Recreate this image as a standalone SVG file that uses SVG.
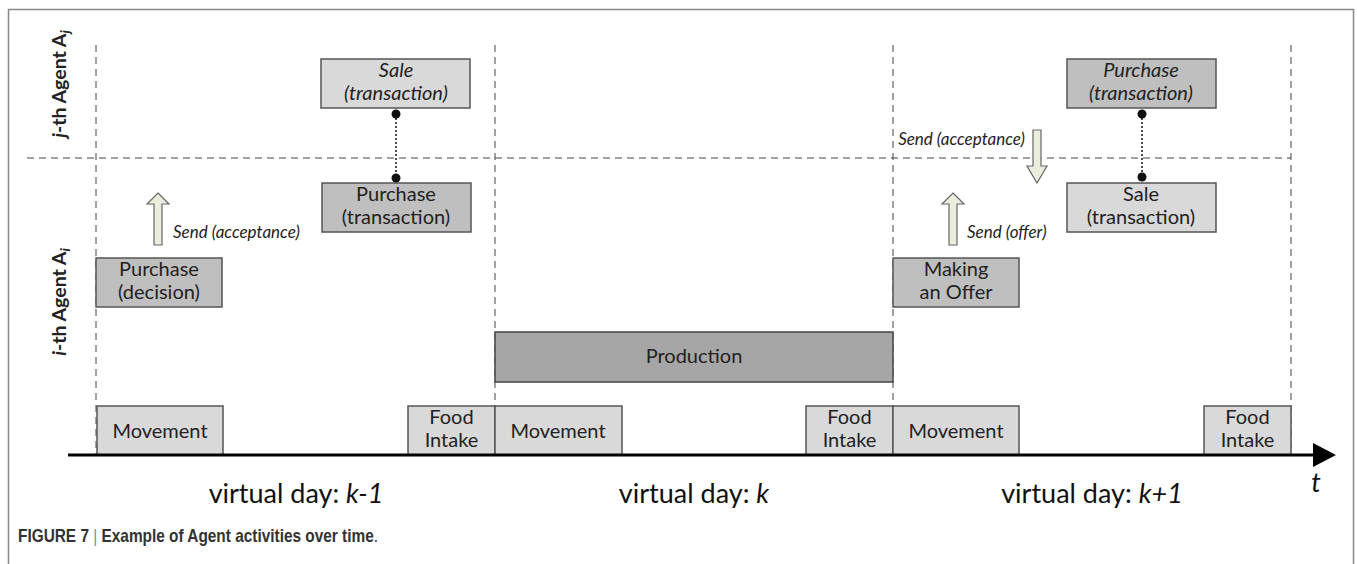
<svg xmlns="http://www.w3.org/2000/svg" width="1357" height="564" viewBox="0 0 1357 564">
<style>
.bl{fill:#d9d9d9;stroke:#555;stroke-width:1.5}
.bd{fill:#bfbfbf;stroke:#555;stroke-width:1.5}
.bp{fill:#a6a6a6;stroke:#444;stroke-width:1.5}
.t{font-family:Lato,"Open Sans",sans-serif;font-size:20px;fill:#222;text-anchor:middle}
.it{font-style:italic}
.lab{font-family:Lato,"Open Sans",sans-serif;font-size:17px;font-style:italic;fill:#222}
.dash{stroke:#444;stroke-width:1;stroke-dasharray:7,5;fill:none}
.dot{stroke:#111;stroke-width:1.5;stroke-dasharray:2,2;fill:none}
.arr{fill:#eceedd;stroke:#666;stroke-width:1.2}
.day{font-family:Lato,"Open Sans",sans-serif;font-size:27px;fill:#111;text-anchor:middle}
.ag{font-family:Lato,"Open Sans",sans-serif;font-size:19.5px;font-weight:bold;fill:#222;text-anchor:middle}
</style>
<rect x="0" y="0" width="1357" height="564" fill="#fff"/>
<rect x="8.5" y="9.5" width="1345" height="600" fill="none" stroke="#888" stroke-width="1.5"/>

<g id="grid">
<line class="dash" x1="96" y1="45" x2="96" y2="455"/>
<line class="dash" x1="495" y1="45" x2="495" y2="455"/>
<line class="dash" x1="893" y1="45" x2="893" y2="455"/>
<line class="dash" x1="1291" y1="45" x2="1291" y2="455"/>
<line class="dash" x1="27" y1="158" x2="1291" y2="158"/>
</g>

<g id="agent-labels">
<text class="ag" transform="translate(66,84) rotate(-90)"><tspan font-style="italic">j</tspan>-th Agent A<tspan font-style="italic" font-size="14" dy="4">j</tspan></text>
<text class="ag" transform="translate(66,302) rotate(-90)"><tspan font-style="italic">i</tspan>-th Agent A<tspan font-style="italic" font-size="14" dy="4">i</tspan></text>
</g>

<g id="sale-k1">
<rect class="bl" x="321" y="59" width="149" height="49"/>
<text class="t it" x="396" y="77">Sale</text>
<text class="t it" x="396" y="100">(transaction)</text>
</g>
<g id="purchase-transaction-k1">
<rect class="bd" x="322" y="183" width="149" height="49"/>
<text class="t" x="396" y="201">Purchase</text>
<text class="t" x="396" y="224">(transaction)</text>
</g>
<g id="purchase-decision">
<rect class="bd" x="96" y="258" width="126" height="49"/>
<text class="t" x="159" y="276">Purchase</text>
<text class="t" x="159" y="299">(decision)</text>
</g>
<g id="production">
<rect class="bp" x="495" y="332" width="398" height="50"/>
<text class="t" x="694" y="363">Production</text>
</g>
<g id="making-offer">
<rect class="bd" x="893" y="258" width="126" height="49"/>
<text class="t" x="956" y="276">Making</text>
<text class="t" x="956" y="299">an Offer</text>
</g>
<g id="purchase-k2">
<rect class="bd" x="1067" y="59" width="149" height="49"/>
<text class="t it" x="1141" y="77">Purchase</text>
<text class="t it" x="1141" y="100">(transaction)</text>
</g>
<g id="sale-k2">
<rect class="bl" x="1067" y="183" width="149" height="49"/>
<text class="t" x="1141" y="201">Sale</text>
<text class="t" x="1141" y="224">(transaction)</text>
</g>

<g id="movement-1"><rect class="bl" x="97" y="406" width="126" height="49"/><text class="t" x="160" y="438">Movement</text></g>
<g id="food-1"><rect class="bl" x="408" y="406" width="87" height="49"/><text class="t" x="451.5" y="424">Food</text><text class="t" x="451.5" y="447">Intake</text></g>
<g id="movement-2"><rect class="bl" x="495" y="406" width="127" height="49"/><text class="t" x="558" y="438">Movement</text></g>
<g id="food-2"><rect class="bl" x="806" y="406" width="87" height="49"/><text class="t" x="849.5" y="424">Food</text><text class="t" x="849.5" y="447">Intake</text></g>
<g id="movement-3"><rect class="bl" x="893" y="406" width="126" height="49"/><text class="t" x="956" y="438">Movement</text></g>
<g id="food-3"><rect class="bl" x="1204" y="406" width="87" height="49"/><text class="t" x="1247.5" y="424">Food</text><text class="t" x="1247.5" y="447">Intake</text></g>

<g id="connectors">
<line class="dot" x1="396" y1="114" x2="396" y2="178"/>
<circle cx="396" cy="114" r="4.5" fill="#111"/>
<circle cx="396" cy="178" r="4.5" fill="#111"/>
<line class="dot" x1="1142" y1="114" x2="1142" y2="177"/>
<circle cx="1142" cy="114" r="4.5" fill="#111"/>
<circle cx="1142" cy="177" r="4.5" fill="#111"/>
<polygon class="arr" points="158,193 169,204 162,204 162,245 154,245 154,204 147,204"/>
<polygon class="arr" points="953,193 964,204 957,204 957,245 949,245 949,204 942,204"/>
<polygon class="arr" points="1037,183 1047,166 1041,166 1041,130 1033,130 1033,166 1027,166"/>
<line x1="68" y1="455" x2="1316" y2="455" stroke="#000" stroke-width="3"/>
<polygon points="1313,443 1336,455 1313,467" fill="#000"/>
</g>

<g id="labels">
<text class="lab" x="173" y="238">Send (acceptance)</text>
<text class="lab" x="967" y="238">Send (offer)</text>
<text class="lab" x="1025" y="145" text-anchor="end">Send (acceptance)</text>
<text class="day" x="296" y="503">virtual day: <tspan font-style="italic">k-1</tspan></text>
<text class="day" x="694" y="503">virtual day: <tspan font-style="italic">k</tspan></text>
<text class="day" x="1092" y="503">virtual day: <tspan font-style="italic">k+1</tspan></text>
<text class="day" x="1316" y="492" font-style="italic" font-size="28">t</text>
<text transform="translate(18,542) scale(0.88,1)" font-family="'Liberation Sans',Arial,sans-serif" font-size="17.5" fill="#333"><tspan font-weight="bold">FIGURE 7</tspan> <tspan fill="#888">|</tspan> <tspan font-weight="bold">Example of Agent activities over time</tspan>.</text>
</g>
</svg>
